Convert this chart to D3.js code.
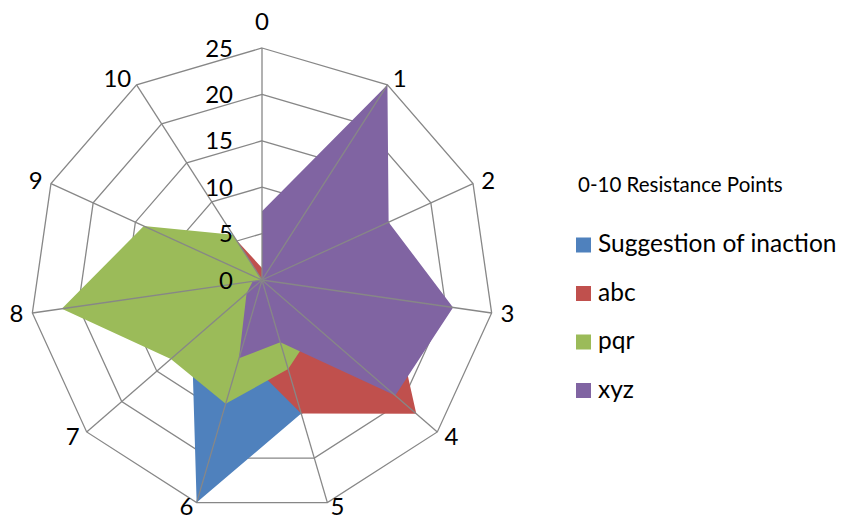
<!DOCTYPE html>
<html>
<head>
<meta charset="utf-8">
<script src="https://cdnjs.cloudflare.com/ajax/libs/d3/7.8.5/d3.min.js"></script>
<style>
  body { margin: 0; background: #fff; }
  text { font-family: Lato, "Liberation Sans", sans-serif; fill: #000; }
</style>
</head>
<body>
<div id="chart"></div>
<script>
// categories round the radar (0-10 resistance points)
const categories = ["0", "1", "2", "3", "4", "5", "6", "7", "8", "9", "10"];
const ringTicks = [0, 5, 10, 15, 20, 25];
const seriesNames = ["Suggestion of inaction", "abc", "pqr", "xyz"];
const seriesColors = ["#4F81BD", "#C0504D", "#9BBB59", "#8064A2"];

// values (hidden parts estimated)
const inaction = [0.5, 2, 3, 4, 5, 15, 25, 10, 5, 3, 2];
const abc = [1.3, 3, 5, 14, 22, 15, 8.2, 5, 4, 3, 5.2];
const pqr = [0, 2, 3, 5, 7.7, 10, 13.9, 13, 21.8, 14, 5.8];
const xyz = [7.4, 25, 15, 20.8, 19, 7, 8.8, 2.2, 1, 0, 0];
const seriesValues = [inaction, abc, pqr, xyz];

const width = 852, height = 520;
const cx = 262, cy = 280, radius = 232;
const gridColor = "#878787";

const svg = d3.select("#chart").append("svg")
    .attr("width", width)
    .attr("height", height);

const r = d3.scaleLinear().domain([0, 25]).range([0, radius]);
const angle = d3.scaleLinear().domain([0, categories.length]).range([0, 2 * Math.PI]);

const g = svg.append("g").attr("transform", "translate(" + cx + "," + cy + ")");

// point for category i at value v
function pt(i, v) {
    const a = angle(i);
    return [Math.sin(a) * r(v), -Math.cos(a) * r(v)];
}

// rings under the fills
const ring = d3.lineRadial()
    .angle((d, i) => angle(i))
    .radius(d => r(d))
    .curve(d3.curveLinearClosed);

g.selectAll("path.ring")
    .data(ringTicks.filter(t => t > 0))
    .join("path")
    .attr("class", "ring")
    .attr("d", t => ring(categories.map(() => t)))
    .attr("fill", "none")
    .attr("stroke", gridColor)
    .attr("stroke-width", 1.3);

// filled series, later ones on top
const area = d3.lineRadial()
    .angle((d, i) => angle(i))
    .radius(d => r(d))
    .curve(d3.curveLinearClosed);

g.selectAll("path.series")
    .data(seriesValues)
    .join("path")
    .attr("class", "series")
    .attr("d", d => area(d))
    .attr("fill", (d, i) => seriesColors[i]);

// spokes drawn over the fills
g.selectAll("line.spoke")
    .data(categories)
    .join("line")
    .attr("class", "spoke")
    .attr("x1", 0).attr("y1", 0)
    .attr("x2", (d, i) => pt(i, 25)[0])
    .attr("y2", (d, i) => pt(i, 25)[1])
    .attr("stroke", gridColor)
    .attr("stroke-width", 1.3);

// ring value labels along the top spoke
g.selectAll("text.tick")
    .data(ringTicks)
    .join("text")
    .attr("class", "tick")
    .attr("x", -29)
    .attr("y", d => -r(d) + 8.5)
    .attr("text-anchor", "end")
    .attr("font-size", 24)
    .text(d => d);

// category labels round the outside (kept inside the bottom edge)
g.selectAll("text.cat")
    .data(categories)
    .join("text")
    .attr("class", "cat")
    .attr("font-size", 24)
    .attr("text-anchor", (d, i) => {
        const s = Math.sin(angle(i));
        return Math.abs(s) < 0.01 ? "middle" : (s > 0 ? "start" : "end");
    })
    .attr("x", (d, i) => {
        const p = pt(i, 25), s = Math.sin(angle(i));
        return Math.abs(s) < 0.01 ? p[0] : p[0] + 8 * s + (s > 0 ? 1 : -1);
    })
    .attr("y", (d, i) => {
        const p = pt(i, 25), c = Math.cos(angle(i));
        if (i === 0) return p[1] - 18;
        return Math.min(p[1] - 7.5 * c + 8, height - cy - 5);
    })
    .text(d => d);

// legend
const legend = svg.append("g").attr("transform", "translate(576,0)");

legend.append("text")
    .attr("x", 2)
    .attr("y", 192)
    .attr("font-size", 20.5)
    .text("0-10 Resistance Points");

const items = legend.selectAll("g.item")
    .data(seriesNames)
    .join("g")
    .attr("class", "item")
    .attr("transform", (d, i) => "translate(0," + (237.5 + i * 48.5) + ")");

items.append("rect")
    .attr("width", 15)
    .attr("height", 15)
    .attr("fill", (d, i) => seriesColors[i]);

items.append("text")
    .attr("x", 22)
    .attr("y", 14.5)
    .attr("font-size", 24.5)
    .text(d => d);
</script>
</body>
</html>
